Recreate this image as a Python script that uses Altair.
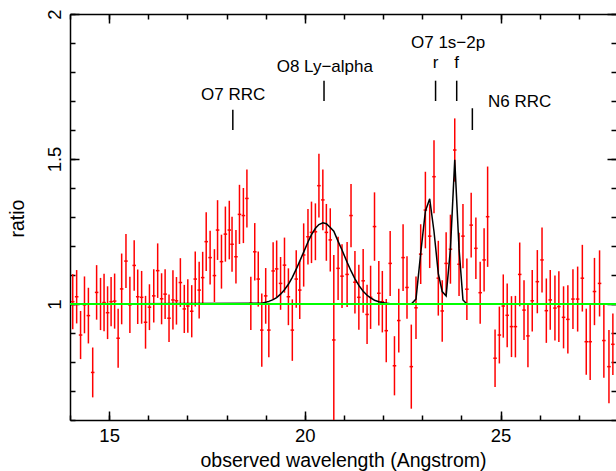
import altair as alt
import pandas as pd

# Binned spectrum: bin centre (Angstrom), data/model ratio and 1-sigma error
wavelength = [
    14.07, 14.17, 14.27, 14.37, 14.47, 14.58, 14.68, 14.78, 14.87, 14.96,
    15.05, 15.14, 15.23, 15.32, 15.43, 15.53, 15.64, 15.73, 15.83, 15.93,
    16.03, 16.14, 16.24, 16.34, 16.43, 16.53, 16.63, 16.72, 16.82, 16.92,
    17.01, 17.11, 17.20, 17.30, 17.39, 17.48, 17.58, 17.69, 17.77, 17.87,
    17.97, 18.07, 18.14, 18.24, 18.33, 18.43, 18.52, 18.62, 18.72, 18.81,
    18.90, 19.00, 19.08, 19.19, 19.28, 19.38, 19.48, 19.58, 19.68, 19.78,
    19.87, 19.97, 20.08, 20.17, 20.27, 20.36, 20.46, 20.55, 20.65, 20.74,
    20.85, 20.95, 21.08, 21.18, 21.28, 21.38, 21.49, 21.59, 21.68, 21.78,
    21.89, 21.98, 22.08, 22.18, 22.29, 22.40, 22.51, 22.61, 22.72, 22.84,
    22.96, 23.08, 23.19, 23.30, 23.41, 23.51, 23.61, 23.72, 23.83, 23.94,
    24.04, 24.14, 24.25, 24.37, 24.48, 24.58, 24.67, 24.86, 24.97, 25.07,
    25.17, 25.28, 25.38, 25.49, 25.60, 25.70, 25.81, 25.94, 26.06, 26.17,
    26.27, 26.39, 26.49, 26.61, 26.72, 26.85, 26.97, 27.09, 27.19, 27.29,
    27.40, 27.53, 27.64, 27.77, 27.87,
]
ratio = [
    1.008, 1.025, 0.893, 0.997, 0.960, 0.764, 1.040, 1.000, 1.005, 0.970,
    1.008, 1.010, 0.882, 1.052, 1.148, 0.997, 1.133, 1.025, 1.023, 0.937,
    0.989, 1.028, 1.115, 1.018, 1.034, 0.951, 1.014, 1.011, 1.074, 0.983,
    0.993, 0.975, 1.086, 1.048, 1.091, 1.215, 1.160, 1.098, 1.255, 1.146,
    1.241, 1.255, 1.206, 1.163, 1.309, 1.305, 1.364, 1.002, 1.180, 1.086,
    0.910, 1.028, 0.910, 1.114, 1.121, 1.071, 1.134, 1.025, 0.910, 1.086,
    1.048, 1.169, 1.232, 1.247, 1.249, 1.408, 1.359, 1.247, 1.221, 0.876,
    1.123, 1.096, 1.102, 1.305, 1.075, 1.023, 1.080, 0.964, 1.023, 1.267,
    1.037, 1.008, 0.908, 1.140, 0.787, 0.943, 1.160, 1.057, 0.784, 0.987,
    1.172, 1.324, 1.234, 1.439, 1.089, 0.976, 1.140, 1.189, 1.531, 1.137,
    1.234, 1.051, 1.272, 1.192, 1.039, 1.152, 1.301, 0.813, 0.893, 0.993,
    0.961, 0.922, 0.922, 1.102, 0.979, 0.890, 1.011, 1.077, 1.152, 0.977,
    1.014, 0.986, 0.991, 0.954, 0.947, 1.017, 1.017, 1.089, 0.870, 0.870,
    1.043, 1.071, 0.874, 0.784, 0.861,
]
ratio_err = [
    0.095, 0.092, 0.083, 0.098, 0.096, 0.086, 0.094, 0.090, 0.099, 0.091,
    0.085, 0.095, 0.102, 0.122, 0.093, 0.097, 0.087, 0.094, 0.091, 0.091,
    0.079, 0.092, 0.094, 0.088, 0.086, 0.082, 0.102, 0.082, 0.084, 0.083,
    0.092, 0.090, 0.095, 0.098, 0.089, 0.101, 0.093, 0.091, 0.103, 0.093,
    0.095, 0.101, 0.095, 0.092, 0.102, 0.095, 0.100, 0.092, 0.099, 0.095,
    0.126, 0.096, 0.094, 0.099, 0.098, 0.091, 0.095, 0.098, 0.106, 0.099,
    0.100, 0.109, 0.096, 0.106, 0.098, 0.110, 0.105, 0.098, 0.109, 0.293,
    0.109, 0.110, 0.112, 0.109, 0.108, 0.112, 0.110, 0.102, 0.109, 0.118,
    0.111, 0.106, 0.109, 0.112, 0.102, 0.110, 0.115, 0.108, 0.145, 0.108,
    0.103, 0.132, 0.110, 0.126, 0.129, 0.106, 0.107, 0.119, 0.109, 0.109,
    0.111, 0.106, 0.112, 0.106, 0.107, 0.109, 0.173, 0.099, 0.098, 0.109,
    0.110, 0.105, 0.106, 0.110, 0.103, 0.108, 0.106, 0.109, 0.112, 0.111,
    0.103, 0.112, 0.122, 0.107, 0.118, 0.103, 0.112, 0.115, 0.114, 0.132,
    0.116, 0.114, 0.128, 0.126, 0.106,
]

# Line model (continuum = 1) evaluated at the bin centres
model_wavelength = [
    14.07, 18.90, 19.00, 19.08, 19.19, 19.28, 19.38, 19.48, 19.58, 19.68,
    19.78, 19.87, 19.97, 20.08, 20.17, 20.27, 20.36, 20.46, 20.55, 20.65,
    20.74, 20.85, 20.95, 21.08, 21.18, 21.28, 21.38, 21.49, 21.59, 21.68,
    21.78, 21.89, 21.98, 22.08, 22.18, 22.29, 22.72, 22.84, 22.96, 23.08,
    23.19, 23.30, 23.41, 23.51, 23.61, 23.72, 23.83, 23.94, 24.04, 24.14,
    27.87,
]
model_ratio = [
    1.000, 1.003, 1.006, 1.009, 1.015, 1.022, 1.034, 1.049, 1.068, 1.092,
    1.120, 1.148, 1.179, 1.214, 1.239, 1.261, 1.274, 1.280, 1.277, 1.264,
    1.251, 1.216, 1.186, 1.144, 1.114, 1.087, 1.064, 1.044, 1.030, 1.021,
    1.013, 1.008, 1.005, 1.003, 1.001, 1.000, 1.000, 1.017, 1.175, 1.320,
    1.363, 1.250, 1.105, 1.043, 1.028, 1.190, 1.497, 1.190, 1.014, 1.000,
    1.000,
]

# Line identifications: marker position and vertical extent
marker_wavelength = [18.16, 20.49, 23.34, 23.88, 24.28]
marker_low = [1.60, 1.70, 1.70, 1.70, 1.60]
marker_high = [1.67, 1.77, 1.77, 1.77, 1.675]

label_text = ["O7 RRC", "O8 Ly\u2212alpha", "O7 1s\u22122p", "r", "f"]
label_wavelength = [18.17, 20.51, 23.66, 23.34, 23.88]
label_ratio = [1.703, 1.801, 1.883, 1.814, 1.814]
side_label_text = ["N6 RRC"]
side_label_wavelength = [24.68]
side_label_ratio = [1.680]

unity = [1.0]

x_major = [15, 20, 25]
x_minor = [14, 15, 16, 17, 18, 19, 20, 21, 22, 23, 24, 25, 26, 27]
y_major = [1.0, 1.5, 2.0]
y_minor = [0.6, 0.7, 0.8, 0.9, 1.0, 1.1, 1.2, 1.3, 1.4, 1.5,
           1.6, 1.7, 1.8, 1.9, 2.0]

W, H = 546, 406
FONT = "Liberation Sans"
CAP = 0.045

spectrum = pd.DataFrame({"wl": wavelength, "ratio": ratio, "err": ratio_err})
model = pd.DataFrame({"wl": model_wavelength, "ratio": model_ratio})
markers = pd.DataFrame({"wl": marker_wavelength, "lo": marker_low, "hi": marker_high})
labels = pd.DataFrame({"wl": label_wavelength, "y": label_ratio, "text": label_text})
side_labels = pd.DataFrame({"wl": side_label_wavelength, "y": side_label_ratio,
                            "text": side_label_text})

xs = alt.Scale(domain=[14, 27.95], nice=False, zero=False)
ys = alt.Scale(domain=[0.6, 2.0], nice=False, zero=False)


def tick_axis(orient, values, size, offset, domain=False):
    """Label-free axis used only for inward-pointing tick marks."""
    return alt.Axis(orient=orient, values=values, offset=offset, tickSize=size,
                    tickWidth=1.5, tickColor="black", labels=False,
                    domain=domain, domainColor="black", domainWidth=1.5,
                    title=None, grid=False)


x_label_axis = alt.Axis(
    orient="bottom", values=x_major, ticks=False, tickSize=0, domain=True,
    domainColor="black", domainWidth=1.5, format="d",
    labelFont=FONT, labelFontSize=18.5, labelColor="black",
    labelBaseline="alphabetic", labelPadding=21.5, labelFlush=False,
    labelOverlap=False,
    title="observed wavelength (Angstrom)", titleFont=FONT, titleFontSize=19.5,
    titleFontWeight="normal", titleColor="black", titleBaseline="alphabetic",
    titleY=46, grid=False,
)
y_label_axis = alt.Axis(
    orient="left", values=y_major, ticks=False, tickSize=0, domain=True,
    domainColor="black", domainWidth=1.5, format="~g",
    labelFont=FONT, labelFontSize=18.5, labelColor="black", labelAngle=270,
    labelAlign="center", labelBaseline="alphabetic", labelPadding=10,
    labelFlush=False, labelOverlap=False,
    title="ratio", titleFont=FONT, titleFontSize=19.5, titleFontWeight="normal",
    titleColor="black", titleAngle=270, titleAlign="center",
    titleBaseline="alphabetic", titleX=-46.5, titleY=204, grid=False,
)

bars = alt.Chart(spectrum).transform_calculate(
    lo="datum.ratio - datum.err", hi="datum.ratio + datum.err"
).mark_rule(color="#ff0000", strokeWidth=1.5, clip=True).encode(
    x=alt.X("wl:Q", scale=xs, axis=x_label_axis),
    y=alt.Y("lo:Q", scale=ys, axis=y_label_axis),
    y2="hi:Q",
)

caps = alt.Chart(spectrum).transform_calculate(
    x0=f"datum.wl - {CAP}", x1=f"datum.wl + {CAP}"
).mark_rule(color="#ff0000", strokeWidth=1.5, clip=True).encode(
    x=alt.X("x0:Q", scale=xs, axis=tick_axis("top", x_minor, 5, -H)),
    x2="x1:Q",
    y=alt.Y("ratio:Q", scale=ys, axis=tick_axis("right", y_minor, 5, -W)),
)

model_line = alt.Chart(model).mark_line(
    color="black", strokeWidth=1.5, clip=True
).encode(
    x=alt.X("wl:Q", scale=xs, axis=tick_axis("top", x_major, 9, -H)),
    y=alt.Y("ratio:Q", scale=ys, axis=tick_axis("right", y_major, 9, -W)),
)

unity_line = alt.Chart(pd.DataFrame({"ratio": unity})).mark_rule(
    color="#00ff00", strokeWidth=2
).encode(y=alt.Y("ratio:Q", scale=ys, axis=None))

marker_lines = alt.Chart(markers).mark_rule(color="black", strokeWidth=1.5).encode(
    x=alt.X("wl:Q", scale=xs, axis=tick_axis("bottom", x_major, 9, -H, domain=True)),
    y=alt.Y("lo:Q", scale=ys, axis=tick_axis("left", y_major, 9, -W)),
    y2="hi:Q",
)

label_marks = alt.Chart(labels).mark_text(
    font=FONT, fontSize=17, color="black", align="center", baseline="alphabetic"
).encode(
    x=alt.X("wl:Q", scale=xs, axis=tick_axis("bottom", x_minor, 5, -H)),
    y=alt.Y("y:Q", scale=ys, axis=tick_axis("left", y_minor, 5, -W)),
    text="text:N",
)

side_label_marks = alt.Chart(side_labels).mark_text(
    font=FONT, fontSize=17, color="black", align="left", baseline="alphabetic"
).encode(
    x=alt.X("wl:Q", scale=xs, axis=None),
    y=alt.Y("y:Q", scale=ys, axis=None),
    text="text:N",
)

chart = alt.layer(
    bars, caps, model_line, unity_line, marker_lines, label_marks, side_label_marks
).resolve_axis(
    x="independent", y="independent"
).properties(
    width=W, height=H,
    padding={"left": 70, "top": 14, "right": 0, "bottom": 51},
    autosize=alt.AutoSizeParams(type="none"),
    background="white",
).configure_view(stroke=None).configure_axis(grid=False)

chart.save("out.html", embed_options={"renderer": "svg", "actions": False})
